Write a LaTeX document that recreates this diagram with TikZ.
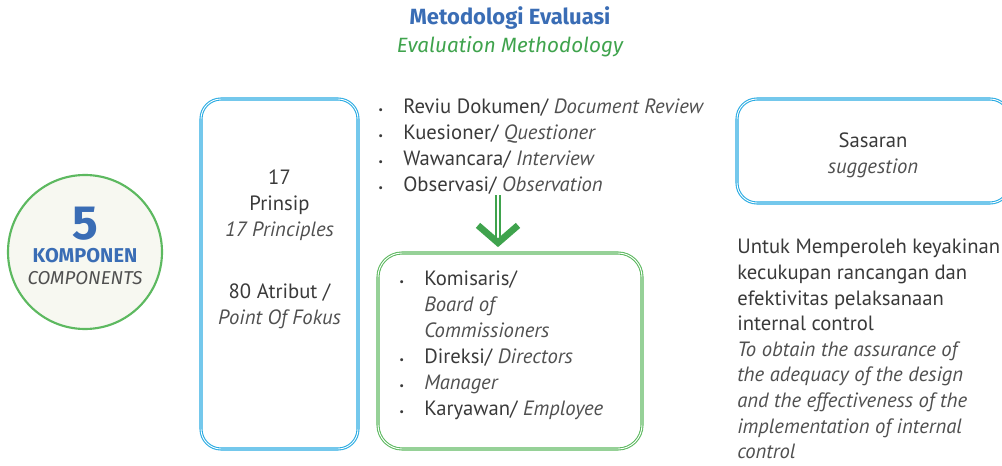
\documentclass[tikz,border=0pt]{standalone}
\usepackage{fontspec}
\setmainfont{PT Sans}
\newfontfamily\titlefont{Fira Sans}
\usetikzlibrary{arrows.meta, positioning}
\definecolor{titleblue}{HTML}{3A6DB5}
\definecolor{evalgreen}{HTML}{3FA34D}
\definecolor{boxblue}{HTML}{29ABE2}
\definecolor{boxgreen}{HTML}{5DB960}
\definecolor{textgrey}{HTML}{3A3A3A}
\definecolor{itgrey}{HTML}{505050}
\definecolor{circfill}{HTML}{F7F8F1}
\newcommand{\itm}{\makebox[18.75pt][l]{\footnotesize\textbullet}}
\newcommand{\en}[1]{{\itshape\color{itgrey}#1}}
\newcommand{\nodepth}[1]{\raisebox{0pt}[\height][0pt]{#1}}

\begin{document}
\begin{tikzpicture}[
    x=0.75pt, y=-0.75pt,
    font=\fontsize{15.5}{19.5}\selectfont, text=textgrey,
    bluebox/.style={rectangle, draw=boxblue, double=white, double distance=0.7pt, line width=0.8pt, rounded corners=15pt, inner sep=0pt},
    greenbox/.style={rectangle, draw=boxgreen, double=white, double distance=0.7pt, line width=0.8pt, rounded corners=18pt, inner sep=0pt},
    lbl/.style={inner sep=0pt, align=center},
    flow/.style={draw=evalgreen, line width=1.4pt, double=white, double distance=2pt, shorten >=4pt, -{Straight Barb[length=13pt, width=30pt, line width=5pt]}}
]
    \useasboundingbox (0,0) rectangle (1002,466);

    % judul
    \node[lbl, font=\titlefont\fontsize{16.5}{18}\selectfont\bfseries, text=titleblue] (title) at (510,18) {Metodologi Evaluasi};
    \node[lbl, font=\titlefont\fontsize{15.5}{18}\selectfont\itshape, text=evalgreen, below=5pt of title] (subtitle) {Evaluation Methodology};

    % 5 komponen
    \node[circle, draw=boxgreen, line width=1.6pt, fill=circfill, minimum size=115.5pt] (comp) at (85,252) {};
    \node[lbl] (comptxt) at (85,246)
        {\nodepth{\titlefont\fontsize{36}{30}\selectfont\bfseries\color{titleblue}5}\\[-2.5pt]
         \nodepth{\titlefont\fontsize{15}{15}\selectfont\bfseries\color{titleblue}KOMPONEN}\\[-3pt]
         {\titlefont\fontsize{14}{15}\selectfont\itshape\color{itgrey}COMPONENTS}};

    % prinsip dan atribut
    \node[bluebox, minimum width=117.75pt, minimum height=262.5pt] (princ) at (279.5,274) {};
    \node[lbl, anchor=north] (princtxt) at (279.5,170)
        {17\\Prinsip\\\en{17 Principles}\\[27pt]80 Atribut /\\\en{Point Of Fokus}};

    % metode
    \node[anchor=north west, align=left, inner sep=0pt] (methods) at (378,99)
        {\itm Reviu Dokumen/ \en{Document Review}\\
         \itm Kuesioner/ \en{Questioner}\\
         \itm Wawancara/ \en{Interview}\\
         \itm Observasi/ \en{Observation}};

    % narasumber
    \node[greenbox, minimum width=198pt, minimum height=147pt] (actors) at (510,351) {};
    \node[anchor=north west, align=left, inner sep=0pt] (actortxt) at (399,271)
        {\itm Komisaris/\\
         \hspace*{18.75pt}\en{Board of}\\
         \hspace*{18.75pt}\en{Commissioners}\\
         \itm Direksi/ \en{Directors}\\
         \itm \en{Manager}\\
         \itm Karyawan/ \en{Employee}};

    \draw[flow] ([xshift=-9pt]actors.north |- methods.south) -- ([xshift=-9pt]actors.north);

    % sasaran
    \node[bluebox, minimum width=204.75pt, minimum height=78pt] (goal) at (873.5,151) {};
    \node[lbl] (goaltitle) at (873,155) {Sasaran\\\en{suggestion}};
    \node[anchor=north west, align=left, inner sep=0pt, font=\fontsize{15.5}{19.2}\selectfont] (goaltxt) at (737,239)
        {Untuk Memperoleh keyakinan\\
         kecukupan rancangan dan\\
         efektivitas pelaksanaan\\
         internal control\\
         \en{To obtain the assurance of}\\
         \en{the adequacy of the design}\\
         \en{and the effectiveness of the}\\
         \en{implementation of internal}\\
         \en{control}};
\end{tikzpicture}
\end{document}
